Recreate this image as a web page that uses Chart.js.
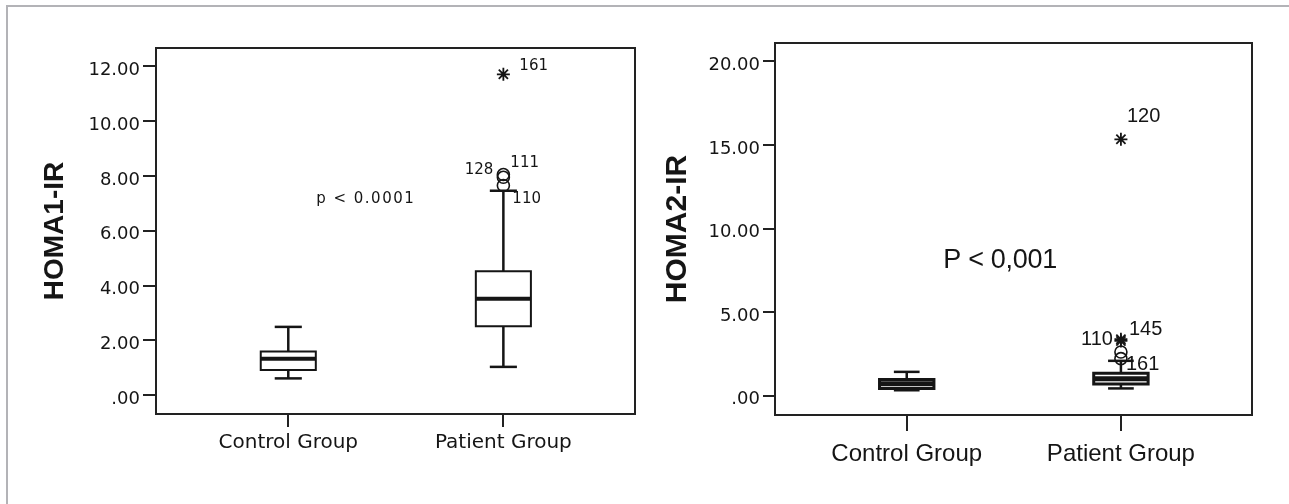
<!DOCTYPE html>
<html><head><meta charset="utf-8">
<script src="https://cdn.jsdelivr.net/npm/chart.js@4.4.1/dist/chart.umd.min.js"></script>
<style>
html,body{margin:0;padding:0;background:#fff;width:1289px;height:504px;overflow:hidden;position:relative}
#frame{position:absolute;left:6px;top:5px;right:0;bottom:0;border-left:2px solid #b3b3b7;border-top:2px solid #b3b3b7}
canvas{position:absolute;top:0}
#c1{left:0}
#c2{left:640px}
</style></head><body>
<div id="frame"></div>
<canvas id="c1" width="645" height="504"></canvas>
<canvas id="c2" width="649" height="504"></canvas>
<script>
// ---- data ----
const categories = ['Control Group', 'Patient Group'];
const categoryPositions = [1, 2];

// HOMA1-IR (left panel)
const homa1Low = [0.61, 1.03];
const homa1Q1 = [0.92, 2.51];
const homa1Median = [1.33, 3.52];
const homa1Q3 = [1.59, 4.52];
const homa1High = [2.49, 7.46];
const homa1CircleValues = [8.05, 7.95, 7.65];
const homa1CircleIds = ['128', '111', '110'];
const homa1StarValues = [11.71];
const homa1StarIds = ['161'];
const homa1TickValues = [0, 2, 4, 6, 8, 10, 12];
const homa1TickLabels = ['.00', '2.00', '4.00', '6.00', '8.00', '10.00', '12.00'];

// HOMA2-IR (right panel)
const homa2Low = [0.33, 0.44];
const homa2Q1 = [0.44, 0.70];
const homa2Median = [0.72, 1.02];
const homa2Q3 = [0.98, 1.34];
const homa2High = [1.43, 2.09];
const homa2CircleValues = [2.62, 2.22];
const homa2CircleIds = ['', '161'];
const homa2StarValues = [15.34, 3.38, 3.28];
const homa2StarIds = ['120', '145', '110'];
const homa2TickValues = [0, 5, 10, 15, 20];
const homa2TickLabels = ['.00', '5.00', '10.00', '15.00', '20.00'];

// ---- helpers ----
const INK = '#151515';
function seg(points, width) {
  return { type: 'scatter', data: points, showLine: true, borderColor: INK, borderWidth: width,
    pointRadius: 0, fill: false, tension: 0, borderCapStyle: 'butt', borderJoinStyle: 'miter' };
}
function boxDatasets(st, halfBox, halfCap, whiskerW, boxW, medW) {
  const ds = [];
  categoryPositions.forEach((c, i) => {
    const lo = st.low[i], q1 = st.q1[i], med = st.median[i], q3 = st.q3[i], hi = st.high[i];
    ds.push(seg([{x: c - halfBox, y: med}, {x: c + halfBox, y: med}], medW));
    ds.push(seg([{x: c - halfBox, y: q1}, {x: c + halfBox, y: q1}, {x: c + halfBox, y: q3},
                 {x: c - halfBox, y: q3}, {x: c - halfBox, y: q1}, {x: c + halfBox, y: q1}], boxW));
    ds.push(seg([{x: c, y: q3}, {x: c, y: hi}], whiskerW));
    ds.push(seg([{x: c, y: q1}, {x: c, y: lo}], whiskerW));
    ds.push(seg([{x: c - halfCap, y: hi}, {x: c + halfCap, y: hi}], whiskerW));
    ds.push(seg([{x: c - halfCap, y: lo}, {x: c + halfCap, y: lo}], whiskerW));
  });
  return ds;
}
function outlierDatasets(circleVals, circleIds, starVals, starIds, grp) {
  const c = categoryPositions[grp];
  return [
    { type: 'scatter', data: starVals.map(v => ({x: c, y: v})), outlierIds: starIds,
      pointStyle: 'star', pointRadius: 6.5, borderWidth: 1.8, borderColor: INK, backgroundColor: INK, showLine: false },
    { type: 'scatter', data: circleVals.map(v => ({x: c, y: v})), outlierIds: circleIds,
      pointStyle: 'circle', pointRadius: 6, borderWidth: 1.6, borderColor: INK, backgroundColor: 'rgba(255,255,255,0)', showLine: false }
  ];
}
const framePlugin = {
  id: 'frame',
  afterDraw(chart) {
    const a = chart.chartArea, ctx = chart.ctx;
    ctx.save();
    ctx.strokeStyle = '#222'; ctx.lineWidth = 2;
    ctx.strokeRect(a.left, a.top, a.right - a.left, a.bottom - a.top);
    ctx.restore();
  }
};
function labelPlugin(cfg) {
  return {
    id: 'labels_' + cfg.name,
    afterDatasetsDraw(chart) {
      const ctx = chart.ctx;
      chart.data.datasets.forEach((ds, i) => {
        if (!ds.outlierIds) return;
        const meta = chart.getDatasetMeta(i);
        meta.data.forEach((pt, j) => {
          const id = ds.outlierIds[j];
          if (!id) return;
          const s = cfg.offsets[id];
          ctx.save();
          ctx.font = cfg.labelFont; ctx.fillStyle = INK;
          ctx.textAlign = s.align; ctx.textBaseline = 'alphabetic';
          ctx.fillText(id, pt.x + s.dx, pt.y + s.dy);
          ctx.restore();
        });
      });
      const an = cfg.annotation;
      const xs = chart.scales.x, ys = chart.scales.y;
      ctx.save();
      ctx.font = an.font; ctx.fillStyle = INK; ctx.textAlign = 'center'; ctx.textBaseline = 'alphabetic';
      if ('letterSpacing' in ctx) ctx.letterSpacing = an.spacing;
      ctx.fillText(an.text, xs.getPixelForValue(an.x), ys.getPixelForValue(an.y));
      ctx.restore();
    }
  };
}
function makeChart(id, p) {
  return new Chart(document.getElementById(id), {
    type: 'scatter',
    data: { datasets: [...outlierDatasets(p.circleVals, p.circleIds, p.starVals, p.starIds, 1),
                       ...boxDatasets(p.stats, p.halfBox, p.halfCap, p.whiskerW, p.boxW, p.medW)] },
    options: {
      responsive: false, animation: false, devicePixelRatio: 1, events: [],
      layout: { padding: p.padding },
      plugins: { legend: { display: false }, tooltip: { enabled: false } },
      scales: {
        x: {
          type: 'linear', min: 0.385, max: 2.612,
          afterBuildTicks: s => { s.ticks = categoryPositions.map(v => ({value: v})); },
          afterFit: s => { s.height = p.xHeight; },
          ticks: { callback: (v, i) => categories[i], font: p.xFont, color: INK, padding: p.xPad,
                   maxRotation: 0, autoSkip: false },
          grid: { drawOnChartArea: false, tickLength: p.xTick, color: '#222', lineWidth: 2 },
          border: { display: false }
        },
        y: {
          min: p.yMin, max: p.yMax,
          afterBuildTicks: s => { s.ticks = p.tickValues.map(v => ({value: v})); },
          afterFit: s => { s.width = p.yWidth; },
          ticks: { callback: (v, i) => p.tickLabels[i], font: p.yFont, color: INK, padding: 3, labelOffset: 4 },
          grid: { drawOnChartArea: false, tickLength: p.yTick, color: '#222', lineWidth: 2 },
          border: { display: false },
          title: { display: true, text: p.title, color: INK,
                   font: { family: 'Liberation Sans', size: p.titleSize, weight: 'bold' },
                   padding: { top: p.titlePad, bottom: 0 } }
        }
      }
    },
    plugins: [framePlugin, labelPlugin(p.labels)]
  });
}

makeChart('c1', {
  stats: { low: homa1Low, q1: homa1Q1, median: homa1Median, q3: homa1Q3, high: homa1High },
  circleVals: homa1CircleValues, circleIds: homa1CircleIds, starVals: homa1StarValues, starIds: homa1StarIds,
  tickValues: homa1TickValues, tickLabels: homa1TickLabels,
  halfBox: 0.128, halfCap: 0.063, whiskerW: 2.5, boxW: 2, medW: 4,
  padding: { left: 0, top: 48, right: 10, bottom: 0 },
  xHeight: 90, yWidth: 156, xTick: 13, yTick: 13, xPad: 4,
  xFont: { family: 'DejaVu Sans', size: 20 }, yFont: { family: 'DejaVu Sans', size: 18 },
  yMin: -0.69, yMax: 12.67, title: 'HOMA1-IR', titleSize: 28, titlePad: 38,
  labels: { name: 'h1', labelFont: '15px "DejaVu Sans"',
    offsets: { '161': {dx: 16, dy: -4, align: 'left'}, '128': {dx: -10, dy: -1, align: 'right'},
               '111': {dx: 7, dy: -10, align: 'left'}, '110': {dx: 9, dy: 17, align: 'left'} },
    annotation: { text: 'p < 0.0001', x: 1.36, y: 7.0, font: '15px "DejaVu Sans"', spacing: '1.5px' } }
});

makeChart('c2', {
  stats: { low: homa2Low, q1: homa2Q1, median: homa2Median, q3: homa2Q3, high: homa2High },
  circleVals: homa2CircleValues, circleIds: homa2CircleIds, starVals: homa2StarValues, starIds: homa2StarIds,
  tickValues: homa2TickValues, tickLabels: homa2TickLabels,
  halfBox: 0.127, halfCap: 0.06, whiskerW: 2.5, boxW: 3, medW: 5,
  padding: { left: 0, top: 43, right: 37, bottom: 0 },
  xHeight: 89, yWidth: 135, xTick: 16, yTick: 12, xPad: 9,
  xFont: { family: 'Liberation Sans', size: 24 }, yFont: { family: 'DejaVu Sans', size: 18 },
  yMin: -1.15, yMax: 21.1, title: 'HOMA2-IR', titleSize: 30, titlePad: 20,
  labels: { name: 'h2', labelFont: '20px "Liberation Sans"',
    offsets: { '120': {dx: 6, dy: -17, align: 'left'}, '145': {dx: 8, dy: -4, align: 'left'},
               '110': {dx: -8, dy: 4, align: 'right'}, '161': {dx: 5, dy: 11, align: 'left'} },
    annotation: { text: 'P < 0,001', x: 1.436, y: 7.63, font: '27px "Liberation Sans"', spacing: '-0.3px' } }
});
</script>
</body></html>
